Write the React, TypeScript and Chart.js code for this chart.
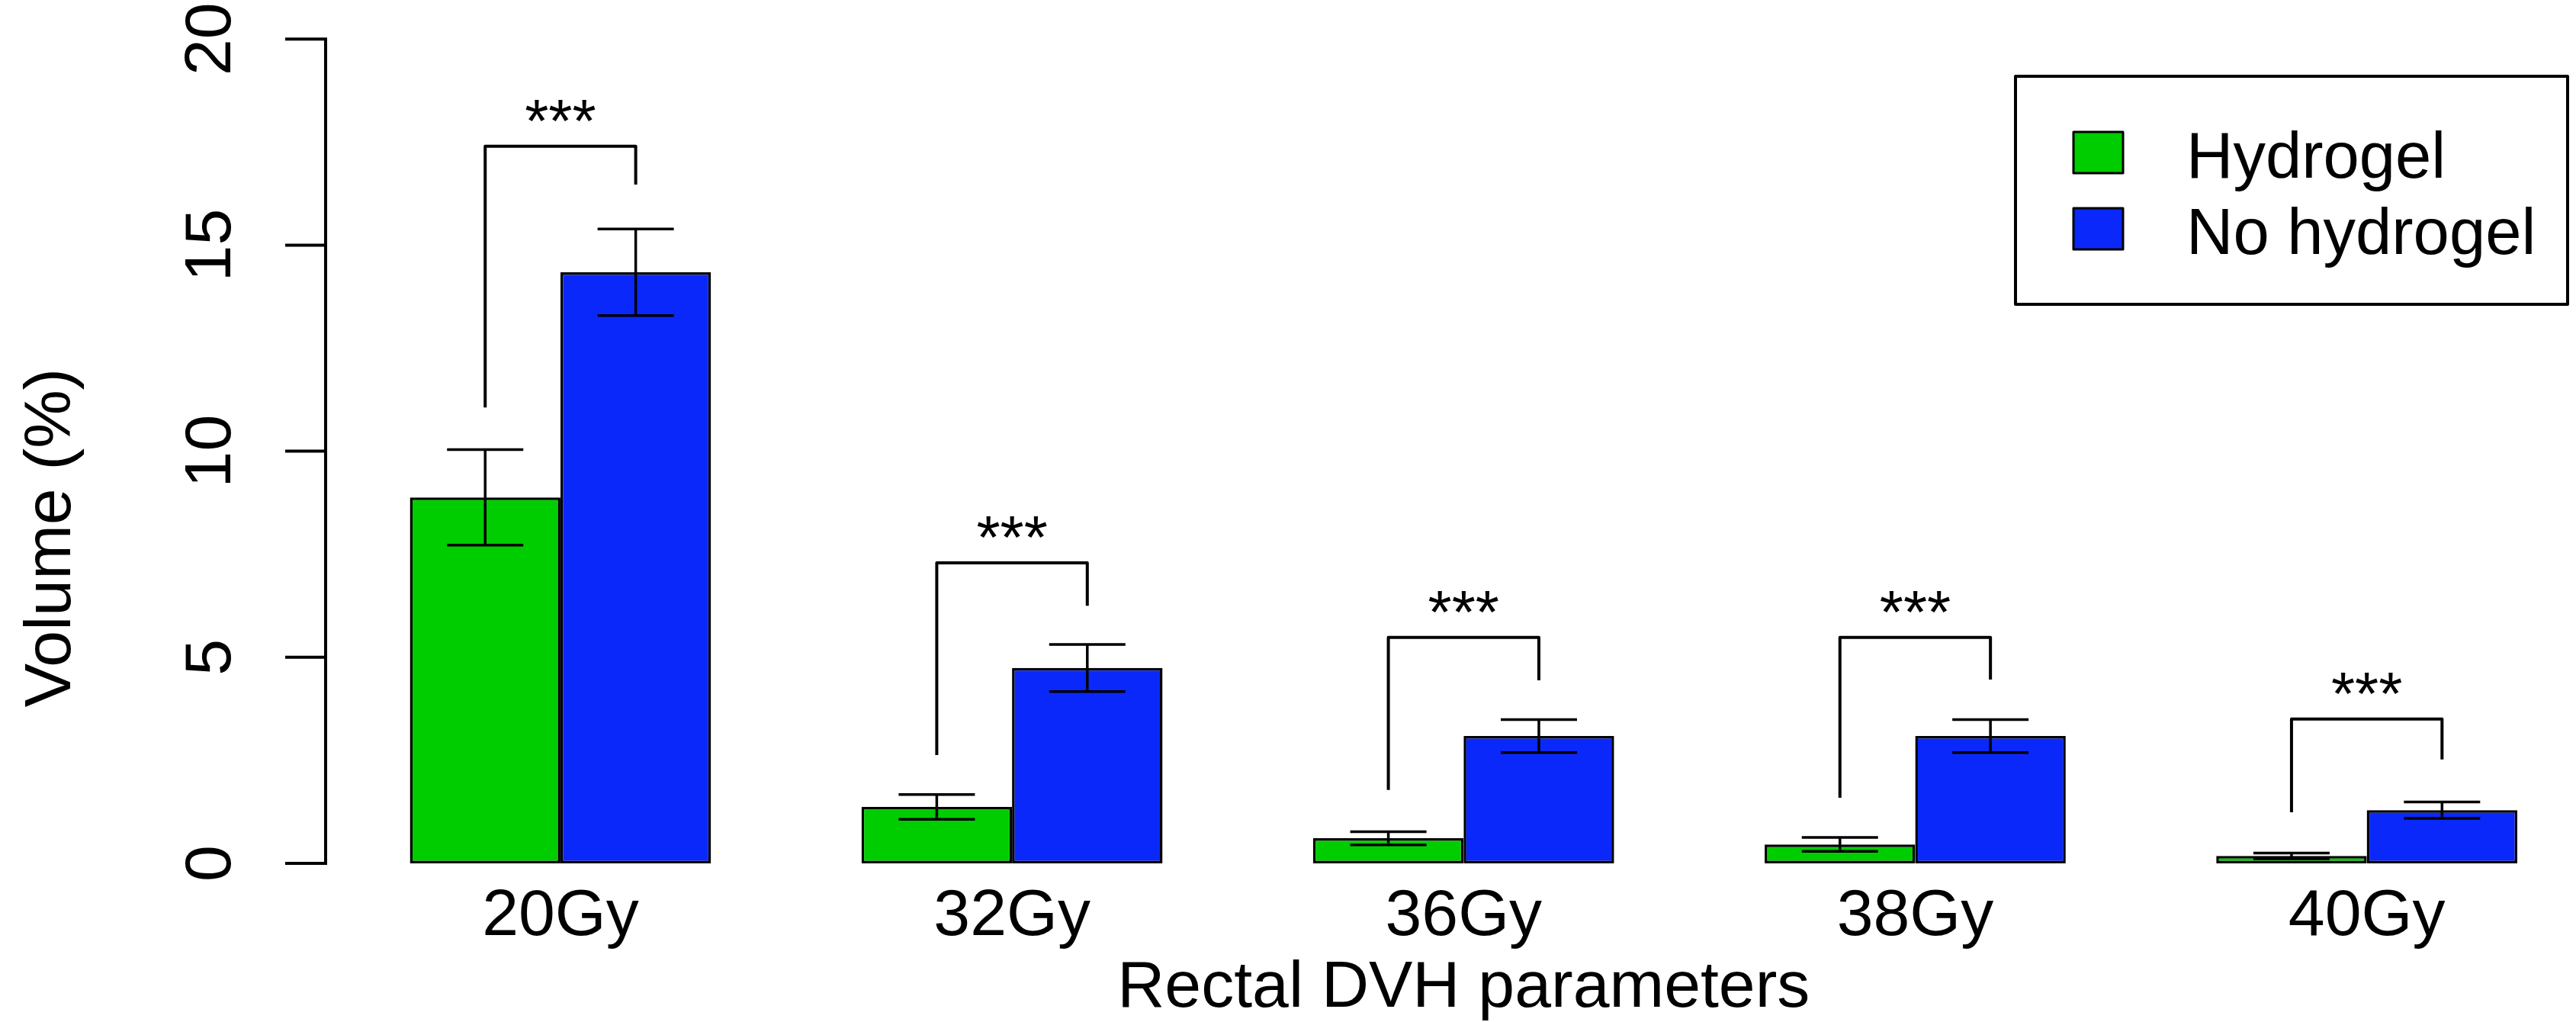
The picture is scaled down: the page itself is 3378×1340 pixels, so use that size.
import { useEffect, useRef } from 'react';
import { Chart, registerables } from 'chart.js';
import type { Plugin } from 'chart.js';

Chart.register(...registerables);

const categories = ['20Gy', '32Gy', '36Gy', '38Gy', '40Gy'];
const seriesLabels = ['Hydrogel', 'No hydrogel'];
const hydrogelMean = [8.88, 1.37, 0.61, 0.46, 0.18];
const hydrogelErr = [1.16, 0.3, 0.16, 0.17, 0.07];
const noHydrogelMean = [14.34, 4.74, 3.09, 3.09, 1.29];
const noHydrogelErr = [1.05, 0.57, 0.4, 0.4, 0.2];
const bracketTop = [17.4, 7.29, 5.48, 5.48, 3.5];
const bracketLeftFrom = [11.06, 2.63, 1.78, 1.59, 1.24];
const bracketRightFrom = [16.47, 6.25, 4.44, 4.46, 2.52];
const yTicks = [0, 5, 10, 15, 20];

const GREEN = '#00cd00';
const BLUE = '#0a28fa';
const FONT = '"Liberation Sans", Arial, sans-serif';

// barplot(beside = TRUE) style: two bars per group, one empty bar width between groups
const groupCenters = categories.map((_, i) => 2 + 3 * i);
const X_MIN = 0.44;
const X_MAX = 15.39;

const extras: Plugin<'bar'> = {
  id: 'extras',
  afterDatasetsDraw(chart) {
    const { ctx } = chart;
    const x = chart.scales.x;
    const y = chart.scales.y;
    const metaA = chart.getDatasetMeta(0);
    const metaB = chart.getDatasetMeta(1);

    ctx.save();
    ctx.strokeStyle = '#000';
    ctx.fillStyle = '#000';
    ctx.lineCap = 'butt';

    // error bars
    const errs = [hydrogelErr, noHydrogelErr];
    const means = [hydrogelMean, noHydrogelMean];
    [metaA, metaB].forEach((meta, d) => {
      meta.data.forEach((bar, i) => {
        const cx = bar.x;
        const top = y.getPixelForValue(means[d][i] + errs[d][i]);
        const bot = y.getPixelForValue(means[d][i] - errs[d][i]);
        ctx.lineWidth = 3.5;
        ctx.beginPath();
        ctx.moveTo(cx, top);
        ctx.lineTo(cx, bot);
        ctx.moveTo(cx - 50, top);
        ctx.lineTo(cx + 50, top);
        ctx.moveTo(cx - 50, bot);
        ctx.lineTo(cx + 50, bot);
        ctx.stroke();
      });
    });

    // significance brackets
    categories.forEach((_, i) => {
      const lx = metaA.data[i].x;
      const rx = metaB.data[i].x;
      const ty = y.getPixelForValue(bracketTop[i]);
      ctx.lineWidth = 4;
      ctx.lineJoin = 'round';
      ctx.beginPath();
      ctx.moveTo(lx, y.getPixelForValue(bracketLeftFrom[i]));
      ctx.lineTo(lx, ty);
      ctx.lineTo(rx, ty);
      ctx.lineTo(rx, y.getPixelForValue(bracketRightFrom[i]));
      ctx.stroke();
      ctx.font = `80px ${FONT}`;
      ctx.textAlign = 'center';
      ctx.textBaseline = 'alphabetic';
      ctx.fillText('***', (lx + rx) / 2, ty - 6);
    });

    // y axis (only from 0 to 20, R style)
    const axisX = chart.chartArea.left;
    ctx.lineWidth = 4;
    ctx.beginPath();
    ctx.moveTo(axisX, y.getPixelForValue(yTicks[0]) + 2);
    ctx.lineTo(axisX, y.getPixelForValue(yTicks[yTicks.length - 1]) - 2);
    yTicks.forEach((t) => {
      const py = y.getPixelForValue(t);
      ctx.moveTo(axisX - 53, py);
      ctx.lineTo(axisX + 2, py);
    });
    ctx.stroke();

    ctx.font = `86px ${FONT}`;
    ctx.textAlign = 'center';
    ctx.textBaseline = 'alphabetic';
    yTicks.forEach((t) => {
      ctx.save();
      ctx.translate(axisX - 125, y.getPixelForValue(t));
      ctx.rotate(-Math.PI / 2);
      ctx.fillText(String(t), 0, 0);
      ctx.restore();
    });

    ctx.save();
    ctx.translate(92, 705);
    ctx.rotate(-Math.PI / 2);
    ctx.fillText('Volume (%)', 0, 0);
    ctx.restore();

    // x axis title, centred on the plotting range
    ctx.fillText('Rectal DVH parameters', x.getPixelForValue((X_MIN + 15.56) / 2), 1320);

    // legend
    ctx.lineWidth = 4;
    ctx.strokeRect(2643, 100, 724, 299);
    ctx.font = `85px ${FONT}`;
    ctx.textAlign = 'left';
    const colors = [GREEN, BLUE];
    const rows = [173, 273];
    seriesLabels.forEach((label, k) => {
      ctx.fillStyle = colors[k];
      ctx.fillRect(2719, rows[k], 65, 54);
      ctx.lineWidth = 3;
      ctx.strokeRect(2719, rows[k], 65, 54);
      ctx.fillStyle = '#000';
      ctx.fillText(label, 2867, rows[k] + 60);
    });

    ctx.restore();
  },
};

export default function App() {
  const canvasRef = useRef<HTMLCanvasElement | null>(null);

  useEffect(() => {
    document.body.style.margin = '0';
    if (!canvasRef.current) return;

    const chart = new Chart(canvasRef.current, {
      type: 'bar',
      data: {
        datasets: [
          {
            label: seriesLabels[0],
            data: hydrogelMean.map((v, i) => ({ x: groupCenters[i], y: v })),
            backgroundColor: GREEN,
            borderColor: '#000',
            borderWidth: 3.5,
            borderSkipped: false,
          },
          {
            label: seriesLabels[1],
            data: noHydrogelMean.map((v, i) => ({ x: groupCenters[i], y: v })),
            backgroundColor: BLUE,
            borderColor: '#000',
            borderWidth: 3.5,
            borderSkipped: false,
          },
        ],
      },
      options: {
        animation: false,
        responsive: true,
        maintainAspectRatio: false,
        devicePixelRatio: 1,
        layout: { padding: { left: 427, top: 8, right: 0, bottom: 0 } },
        datasets: {
          bar: { categoryPercentage: 2 / 3, barPercentage: 1 },
        },
        plugins: {
          legend: { display: false },
          tooltip: { enabled: false },
        },
        scales: {
          x: {
            type: 'linear',
            min: X_MIN,
            max: X_MAX,
            offset: false,
            grid: { display: false },
            border: { display: false },
            afterBuildTicks: (scale) => {
              scale.ticks = groupCenters.map((v) => ({ value: v }));
            },
            afterFit: (scale) => {
              scale.height = 208;
            },
            ticks: {
              padding: 11,
              color: '#000',
              font: { family: FONT, size: 86 },
              callback: (value) => categories[groupCenters.indexOf(Number(value))] ?? '',
            },
          },
          y: {
            display: false,
            min: 0,
            max: 20.8,
          },
        },
      },
      plugins: [extras],
    });

    return () => {
      chart.destroy();
    };
  }, []);

  return (
    <div style={{ width: '3378px', height: '1340px', position: 'relative', background: '#fff' }}>
      <canvas ref={canvasRef} />
    </div>
  );
}
